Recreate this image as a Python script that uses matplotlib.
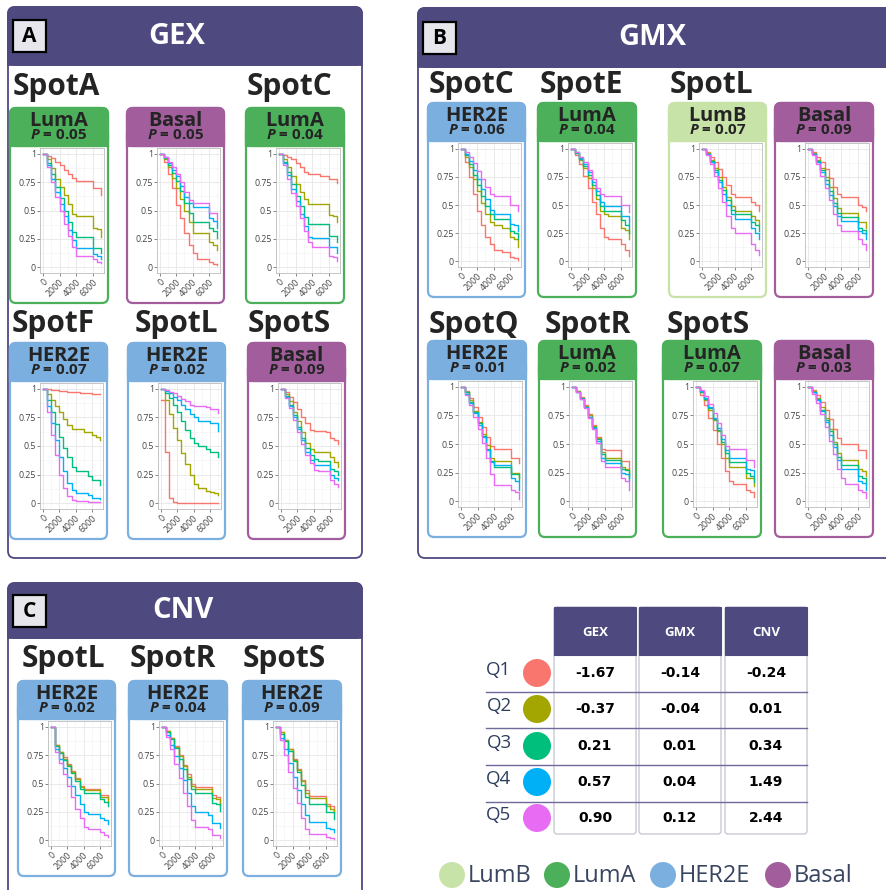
import matplotlib
matplotlib.use("Agg")
import matplotlib.pyplot as plt
from matplotlib.patches import FancyBboxPatch, Rectangle, Circle

plt.rcParams['font.family'] = ['Open Sans', 'DejaVu Sans']
plt.rcParams['mathtext.fontset'] = 'custom'
plt.rcParams['mathtext.bfit'] = 'Open Sans:italic:bold'
plt.rcParams['mathtext.bf'] = 'Open Sans:bold'

W, H = 886, 890

# survival time grid (days) and the five quintile colours
times = [0, 500, 1000, 1500, 2000, 2500, 3000, 3500, 4000, 4500, 5000, 5500, 6000, 6500, 7000]
quintiles = ['Q1', 'Q2', 'Q3', 'Q4', 'Q5']
q_colors = ['#F8766D', '#A3A500', '#00BF7D', '#00B0F6', '#E76BF3']

subtype_colors = {'LumB': '#C8E3A8', 'LumA': '#4CAF5A', 'HER2E': '#7BAFDF', 'Basal': '#A25E9C'}

# ---- GEX survival curves (Q1..Q5) ----
gex_spotA_lumA = [
    [1, 0.98, 0.96, 0.93, 0.90, 0.86, 0.82, 0.79, 0.76, 0.76, 0.76, 0.76, 0.70, 0.70, 0.64],
    [1, 0.95, 0.87, 0.78, 0.71, 0.64, 0.56, 0.47, 0.45, 0.45, 0.45, 0.45, 0.35, 0.34, 0.27],
    [1, 0.92, 0.82, 0.71, 0.61, 0.50, 0.40, 0.31, 0.27, 0.27, 0.27, 0.27, 0.17, 0.17, 0.13],
    [1, 0.90, 0.78, 0.66, 0.56, 0.45, 0.33, 0.24, 0.17, 0.17, 0.17, 0.17, 0.12, 0.10, 0.07],
    [1, 0.88, 0.75, 0.62, 0.50, 0.38, 0.28, 0.18, 0.10, 0.10, 0.10, 0.10, 0.07, 0.05, 0.04]]
gex_spotA_basal = [
    [1, 0.93, 0.82, 0.70, 0.55, 0.43, 0.30, 0.20, 0.13, 0.07, 0.07, 0.07, 0.05, 0.03, 0.02],
    [1, 0.95, 0.88, 0.79, 0.70, 0.60, 0.50, 0.40, 0.30, 0.30, 0.30, 0.30, 0.22, 0.20, 0.15],
    [1, 0.96, 0.90, 0.83, 0.76, 0.67, 0.57, 0.48, 0.40, 0.40, 0.40, 0.40, 0.35, 0.32, 0.26],
    [1, 0.97, 0.92, 0.86, 0.80, 0.72, 0.62, 0.57, 0.53, 0.53, 0.53, 0.53, 0.43, 0.41, 0.35],
    [1, 0.97, 0.93, 0.88, 0.82, 0.75, 0.66, 0.59, 0.57, 0.57, 0.57, 0.57, 0.48, 0.48, 0.42]]
gex_spotC_lumA = [
    [1, 0.99, 0.97, 0.95, 0.92, 0.88, 0.84, 0.82, 0.82, 0.82, 0.80, 0.80, 0.78, 0.78, 0.74],
    [1, 0.95, 0.88, 0.80, 0.73, 0.66, 0.60, 0.56, 0.56, 0.56, 0.56, 0.56, 0.46, 0.45, 0.40],
    [1, 0.93, 0.84, 0.73, 0.63, 0.54, 0.44, 0.38, 0.38, 0.38, 0.38, 0.38, 0.28, 0.28, 0.22],
    [1, 0.92, 0.81, 0.69, 0.58, 0.47, 0.36, 0.27, 0.26, 0.26, 0.26, 0.26, 0.18, 0.18, 0.13],
    [1, 0.90, 0.78, 0.65, 0.54, 0.43, 0.32, 0.22, 0.18, 0.18, 0.18, 0.18, 0.10, 0.09, 0.06]]
gex_spotF_her2e = [
    [1, 1.00, 0.99, 0.99, 0.98, 0.98, 0.97, 0.97, 0.97, 0.96, 0.96, 0.96, 0.95, 0.95, 0.95],
    [1, 0.95, 0.90, 0.85, 0.80, 0.74, 0.68, 0.65, 0.65, 0.65, 0.62, 0.62, 0.60, 0.58, 0.55],
    [1, 0.90, 0.80, 0.69, 0.58, 0.48, 0.40, 0.32, 0.28, 0.28, 0.28, 0.24, 0.20, 0.20, 0.16],
    [1, 0.85, 0.70, 0.55, 0.40, 0.28, 0.18, 0.12, 0.09, 0.09, 0.09, 0.07, 0.05, 0.05, 0.04],
    [1, 0.80, 0.60, 0.42, 0.25, 0.13, 0.06, 0.03, 0.02, 0.02, 0.02, 0.01, 0.01, 0.01, 0.01]]
gex_spotL_her2e = [
    [0.9, 0.45, 0.05, 0.01, 0.00, 0.00, 0.00, 0.00, 0.00, 0.00, 0.00, 0.00, 0.00, 0.00, 0.00],
    [1, 0.90, 0.78, 0.66, 0.55, 0.44, 0.34, 0.25, 0.17, 0.13, 0.13, 0.11, 0.10, 0.09, 0.07],
    [1, 0.96, 0.92, 0.86, 0.80, 0.72, 0.64, 0.57, 0.53, 0.50, 0.50, 0.47, 0.45, 0.45, 0.40],
    [1, 0.98, 0.96, 0.93, 0.90, 0.86, 0.82, 0.78, 0.75, 0.72, 0.72, 0.72, 0.70, 0.70, 0.63],
    [1, 0.99, 0.97, 0.96, 0.94, 0.91, 0.89, 0.86, 0.85, 0.85, 0.85, 0.84, 0.82, 0.82, 0.79]]
gex_spotS_basal = [
    [1, 0.97, 0.93, 0.88, 0.82, 0.75, 0.70, 0.64, 0.63, 0.63, 0.63, 0.62, 0.57, 0.55, 0.52],
    [1, 0.95, 0.89, 0.80, 0.72, 0.62, 0.53, 0.47, 0.45, 0.45, 0.45, 0.45, 0.40, 0.36, 0.32],
    [1, 0.94, 0.86, 0.77, 0.67, 0.57, 0.48, 0.42, 0.39, 0.37, 0.37, 0.37, 0.30, 0.28, 0.25],
    [1, 0.93, 0.85, 0.75, 0.65, 0.55, 0.45, 0.38, 0.33, 0.33, 0.33, 0.33, 0.25, 0.22, 0.20],
    [1, 0.92, 0.83, 0.73, 0.62, 0.52, 0.42, 0.35, 0.29, 0.28, 0.28, 0.28, 0.20, 0.17, 0.14]]

# ---- GMX survival curves ----
gmx_spotC_her2e = [
    [1, 0.88, 0.75, 0.60, 0.45, 0.32, 0.22, 0.15, 0.10, 0.10, 0.08, 0.08, 0.04, 0.03, 0.01],
    [1, 0.93, 0.84, 0.73, 0.62, 0.52, 0.42, 0.35, 0.32, 0.32, 0.30, 0.30, 0.22, 0.20, 0.13],
    [1, 0.94, 0.86, 0.77, 0.68, 0.58, 0.49, 0.42, 0.38, 0.38, 0.38, 0.38, 0.27, 0.25, 0.20],
    [1, 0.95, 0.89, 0.81, 0.73, 0.64, 0.55, 0.46, 0.42, 0.42, 0.42, 0.42, 0.33, 0.32, 0.27],
    [1, 0.97, 0.93, 0.87, 0.80, 0.73, 0.66, 0.60, 0.58, 0.58, 0.58, 0.58, 0.50, 0.50, 0.45]]
gmx_spotE_lumA = [
    [1, 0.94, 0.86, 0.76, 0.65, 0.53, 0.42, 0.30, 0.22, 0.20, 0.20, 0.20, 0.15, 0.10, 0.05],
    [1, 0.96, 0.90, 0.83, 0.74, 0.65, 0.55, 0.45, 0.42, 0.40, 0.40, 0.40, 0.30, 0.28, 0.20],
    [1, 0.96, 0.91, 0.85, 0.77, 0.68, 0.59, 0.49, 0.45, 0.45, 0.45, 0.45, 0.37, 0.32, 0.25],
    [1, 0.97, 0.92, 0.86, 0.79, 0.70, 0.62, 0.53, 0.49, 0.49, 0.49, 0.49, 0.40, 0.40, 0.32],
    [1, 0.97, 0.93, 0.88, 0.81, 0.73, 0.65, 0.60, 0.58, 0.58, 0.58, 0.58, 0.50, 0.50, 0.44]]
gmx_spotL_lumB = [
    [1, 0.97, 0.93, 0.88, 0.82, 0.75, 0.68, 0.60, 0.57, 0.57, 0.57, 0.57, 0.53, 0.50, 0.45],
    [1, 0.96, 0.90, 0.83, 0.75, 0.66, 0.57, 0.49, 0.45, 0.45, 0.45, 0.45, 0.40, 0.37, 0.33],
    [1, 0.95, 0.89, 0.81, 0.72, 0.63, 0.54, 0.46, 0.42, 0.42, 0.42, 0.42, 0.35, 0.32, 0.27],
    [1, 0.95, 0.88, 0.79, 0.70, 0.60, 0.50, 0.42, 0.38, 0.38, 0.38, 0.38, 0.30, 0.25, 0.20],
    [1, 0.94, 0.86, 0.76, 0.65, 0.53, 0.40, 0.30, 0.25, 0.25, 0.25, 0.25, 0.15, 0.10, 0.06]]
gmx_spotL_basal = [
    [1, 0.97, 0.93, 0.88, 0.82, 0.74, 0.66, 0.60, 0.57, 0.57, 0.57, 0.57, 0.50, 0.48, 0.45],
    [1, 0.96, 0.90, 0.83, 0.75, 0.66, 0.56, 0.47, 0.43, 0.43, 0.43, 0.43, 0.35, 0.35, 0.30],
    [1, 0.95, 0.89, 0.81, 0.72, 0.62, 0.52, 0.43, 0.39, 0.39, 0.39, 0.39, 0.30, 0.28, 0.24],
    [1, 0.95, 0.88, 0.79, 0.69, 0.59, 0.49, 0.40, 0.36, 0.36, 0.36, 0.36, 0.27, 0.25, 0.20],
    [1, 0.94, 0.86, 0.76, 0.65, 0.54, 0.42, 0.32, 0.27, 0.27, 0.27, 0.27, 0.20, 0.15, 0.10]]
gmx_spotQ_her2e = [
    [1, 0.96, 0.90, 0.82, 0.74, 0.65, 0.56, 0.48, 0.46, 0.46, 0.46, 0.46, 0.38, 0.38, 0.33],
    [1, 0.95, 0.88, 0.79, 0.69, 0.59, 0.49, 0.38, 0.35, 0.35, 0.35, 0.35, 0.25, 0.25, 0.20],
    [1, 0.95, 0.87, 0.78, 0.68, 0.57, 0.46, 0.35, 0.30, 0.30, 0.30, 0.30, 0.24, 0.24, 0.19],
    [1, 0.94, 0.86, 0.77, 0.67, 0.56, 0.45, 0.34, 0.32, 0.32, 0.32, 0.32, 0.20, 0.18, 0.10],
    [1, 0.93, 0.84, 0.74, 0.63, 0.51, 0.38, 0.24, 0.14, 0.14, 0.14, 0.14, 0.10, 0.08, 0.02]]
gmx_spotR_lumA = [
    [1, 0.96, 0.91, 0.84, 0.76, 0.67, 0.56, 0.46, 0.45, 0.45, 0.45, 0.45, 0.35, 0.35, 0.28],
    [1, 0.96, 0.90, 0.83, 0.75, 0.66, 0.55, 0.43, 0.38, 0.38, 0.38, 0.38, 0.30, 0.28, 0.22],
    [1, 0.95, 0.90, 0.82, 0.74, 0.65, 0.54, 0.41, 0.36, 0.36, 0.36, 0.36, 0.28, 0.27, 0.20],
    [1, 0.95, 0.89, 0.82, 0.74, 0.64, 0.53, 0.38, 0.33, 0.33, 0.33, 0.33, 0.25, 0.24, 0.18],
    [1, 0.95, 0.89, 0.81, 0.73, 0.63, 0.51, 0.35, 0.30, 0.30, 0.30, 0.30, 0.20, 0.18, 0.10]]
gmx_spotS_lumA = [
    [1, 0.93, 0.84, 0.73, 0.62, 0.50, 0.38, 0.26, 0.18, 0.15, 0.15, 0.15, 0.10, 0.08, 0.04],
    [1, 0.95, 0.88, 0.80, 0.71, 0.61, 0.50, 0.38, 0.30, 0.30, 0.30, 0.30, 0.20, 0.20, 0.13],
    [1, 0.95, 0.89, 0.81, 0.72, 0.62, 0.52, 0.42, 0.34, 0.34, 0.34, 0.34, 0.25, 0.22, 0.17],
    [1, 0.96, 0.90, 0.82, 0.73, 0.64, 0.54, 0.45, 0.38, 0.38, 0.38, 0.38, 0.28, 0.27, 0.22],
    [1, 0.97, 0.92, 0.85, 0.77, 0.68, 0.58, 0.48, 0.46, 0.46, 0.46, 0.46, 0.36, 0.36, 0.30]]
gmx_spotS_basal = [
    [1, 0.97, 0.93, 0.87, 0.80, 0.72, 0.63, 0.55, 0.50, 0.50, 0.50, 0.50, 0.45, 0.45, 0.38],
    [1, 0.96, 0.90, 0.82, 0.73, 0.63, 0.52, 0.42, 0.36, 0.36, 0.36, 0.36, 0.28, 0.26, 0.22],
    [1, 0.95, 0.89, 0.80, 0.71, 0.61, 0.50, 0.39, 0.32, 0.32, 0.32, 0.32, 0.22, 0.20, 0.15],
    [1, 0.95, 0.88, 0.79, 0.69, 0.58, 0.47, 0.36, 0.28, 0.28, 0.28, 0.28, 0.18, 0.16, 0.10],
    [1, 0.94, 0.86, 0.76, 0.65, 0.53, 0.41, 0.28, 0.20, 0.15, 0.15, 0.15, 0.10, 0.08, 0.03]]

# ---- CNV survival curves ----
cnv_spotL_her2e = [
    [1, 0.84, 0.78, 0.73, 0.67, 0.61, 0.55, 0.48, 0.45, 0.45, 0.45, 0.45, 0.40, 0.40, 0.36],
    [1, 0.84, 0.78, 0.72, 0.66, 0.60, 0.54, 0.47, 0.44, 0.44, 0.44, 0.44, 0.38, 0.38, 0.34],
    [1, 0.83, 0.77, 0.71, 0.65, 0.59, 0.52, 0.45, 0.42, 0.42, 0.42, 0.42, 0.36, 0.34, 0.30],
    [1, 0.80, 0.72, 0.64, 0.56, 0.48, 0.40, 0.32, 0.25, 0.23, 0.23, 0.23, 0.20, 0.18, 0.14],
    [1, 0.78, 0.68, 0.58, 0.48, 0.38, 0.28, 0.20, 0.12, 0.10, 0.10, 0.10, 0.07, 0.05, 0.03]]
cnv_spotR_her2e = [
    [1, 0.96, 0.90, 0.83, 0.75, 0.66, 0.58, 0.50, 0.47, 0.47, 0.47, 0.47, 0.40, 0.38, 0.32],
    [1, 0.96, 0.90, 0.82, 0.74, 0.65, 0.56, 0.48, 0.45, 0.45, 0.45, 0.45, 0.37, 0.36, 0.30],
    [1, 0.95, 0.89, 0.81, 0.72, 0.63, 0.54, 0.45, 0.42, 0.42, 0.42, 0.42, 0.33, 0.32, 0.26],
    [1, 0.93, 0.84, 0.74, 0.64, 0.53, 0.42, 0.30, 0.25, 0.25, 0.25, 0.22, 0.15, 0.15, 0.11],
    [1, 0.91, 0.80, 0.67, 0.55, 0.42, 0.30, 0.18, 0.12, 0.12, 0.12, 0.10, 0.05, 0.05, 0.02]]
cnv_spotS_her2e = [
    [1, 0.95, 0.88, 0.80, 0.72, 0.63, 0.53, 0.44, 0.39, 0.39, 0.39, 0.39, 0.32, 0.30, 0.26],
    [1, 0.95, 0.88, 0.80, 0.71, 0.62, 0.52, 0.42, 0.37, 0.37, 0.37, 0.37, 0.30, 0.28, 0.24],
    [1, 0.94, 0.87, 0.79, 0.70, 0.60, 0.49, 0.38, 0.32, 0.32, 0.32, 0.32, 0.25, 0.25, 0.19],
    [1, 0.90, 0.80, 0.68, 0.56, 0.44, 0.32, 0.22, 0.16, 0.16, 0.16, 0.16, 0.11, 0.10, 0.07],
    [1, 0.88, 0.75, 0.60, 0.46, 0.33, 0.20, 0.10, 0.06, 0.06, 0.06, 0.06, 0.03, 0.02, 0.01]]

# mean values table
table_cols = ['GEX', 'GMX', 'CNV']
gex_means = ['-1.67', '-0.37', '0.21', '0.57', '0.90']
gmx_means = ['-0.14', '-0.04', '0.01', '0.04', '0.12']
cnv_means = ['-0.24', '0.01', '0.34', '1.49', '2.44']

legend_labels = ['LumB', 'LumA', 'HER2E', 'Basal']

# cards: (subtype, p value, curves, box in pixels)
cards = [
    ('LumA', '0.05', gex_spotA_lumA, (10, 108, 108, 303)),
    ('Basal', '0.05', gex_spotA_basal, (127, 108, 224, 303)),
    ('LumA', '0.04', gex_spotC_lumA, (246, 108, 344, 303)),
    ('HER2E', '0.07', gex_spotF_her2e, (10, 343, 107, 539)),
    ('HER2E', '0.02', gex_spotL_her2e, (128, 343, 225, 539)),
    ('Basal', '0.09', gex_spotS_basal, (248, 343, 345, 539)),
    ('HER2E', '0.06', gmx_spotC_her2e, (428, 103, 525, 297)),
    ('LumA', '0.04', gmx_spotE_lumA, (538, 103, 636, 297)),
    ('LumB', '0.07', gmx_spotL_lumB, (669, 103, 766, 297)),
    ('Basal', '0.09', gmx_spotL_basal, (775, 103, 873, 297)),
    ('HER2E', '0.01', gmx_spotQ_her2e, (428, 341, 526, 537)),
    ('LumA', '0.02', gmx_spotR_lumA, (539, 341, 636, 537)),
    ('LumA', '0.07', gmx_spotS_lumA, (663, 341, 761, 537)),
    ('Basal', '0.03', gmx_spotS_basal, (775, 341, 873, 537)),
    ('HER2E', '0.02', cnv_spotL_her2e, (18, 681, 115, 876)),
    ('HER2E', '0.04', cnv_spotR_her2e, (129, 681, 227, 876)),
    ('HER2E', '0.09', cnv_spotS_her2e, (243, 681, 341, 876)),
]

spot_labels = [
    ('SpotA', 13, 95), ('SpotC', 247, 95),
    ('SpotF', 12, 332), ('SpotL', 135, 332), ('SpotS', 248, 332),
    ('SpotC', 429, 93), ('SpotE', 540, 93), ('SpotL', 670, 93),
    ('SpotQ', 429, 333), ('SpotR', 545, 333), ('SpotS', 667, 333),
    ('SpotL', 22, 667), ('SpotR', 130, 667), ('SpotS', 243, 667),
]

PURPLE = '#4E4A80'
DARK = '#242424'

fig = plt.figure(figsize=(W / 100, H / 100), dpi=100)
bg = fig.add_axes([0, 0, 1, 1])
bg.set_xlim(0, W)
bg.set_ylim(H, 0)
bg.axis('off')


def rbox(x0, y0, x1, y1, fc, ec, lw, r, z=1):
    p = FancyBboxPatch((x0, y0), x1 - x0, y1 - y0,
                       boxstyle=f'round,pad=0,rounding_size={r}',
                       fc=fc, ec=ec, lw=lw, zorder=z)
    bg.add_patch(p)


def panel(x0, y0, x1, y1, hdr, letter, title, tx):
    rbox(x0, y0, x1, y1, 'white', PURPLE, 1.3, 7, z=1)
    rbox(x0, y0, x1, hdr, PURPLE, PURPLE, 1.3, 7, z=2)
    bg.add_patch(Rectangle((x0, hdr - 10), x1 - x0, 10, fc=PURPLE, ec=PURPLE, lw=1.3, zorder=2))
    ly = (y0 + hdr) / 2
    bg.add_patch(Rectangle((x0 + 5, ly - 16), 33, 32, fc='#E6E6EC', ec='black', lw=1.6, zorder=3))
    bg.text(x0 + 21.5, ly + 1, letter, fontsize=15, fontweight='bold', color='black',
            ha='center', va='center', zorder=4)
    bg.text(tx, ly, title, fontsize=21, fontweight='bold', color='white',
            ha='center', va='center', zorder=4)


panel(8, 7, 362, 558, 65, 'A', 'GEX', 177)
panel(418, 8, 900, 558, 67, 'B', 'GMX', 652)
panel(8, 583, 362, 910, 638, 'C', 'CNV', 183)

for name, x, y in spot_labels:
    bg.text(x, y, name, fontsize=21.5, fontweight='bold', color=DARK, ha='left', va='baseline', zorder=5)

for subtype, pval, curves, (x0, y0, x1, y1) in cards:
    col = subtype_colors[subtype]
    rbox(x0, y0, x1, y1, 'white', col, 1.6, 6, z=3)
    rbox(x0, y0, x1, y0 + 38, col, col, 1.6, 6, z=3)
    bg.add_patch(Rectangle((x0, y0 + 26), x1 - x0, 12, fc=col, ec=col, lw=1.6, zorder=3))
    cx = (x0 + x1) / 2
    bg.text(cx, y0 + 18, r'$\mathbf{' + subtype + '}$', fontsize=14.5, color=DARK,
            ha='center', va='baseline', zorder=5)
    bg.text(cx, y0 + 31, r'$\mathbfit{P}$ = ' + pval, fontsize=11, fontweight='bold',
            color=DARK, ha='center', va='baseline', zorder=5)

    left, right, top, bottom = x0 + 30, x1 - 4, y0 + 40, y1 - 30
    ax = fig.add_axes([left / W, 1 - bottom / H, (right - left) / W, (bottom - top) / H])
    for surv, c in zip(curves, q_colors):
        ax.step(times, surv, where='post', color=c, lw=1.0)
    ax.set_xlim(-350, 7350)
    ax.set_ylim(-0.05, 1.05)
    ax.set_xticks([0, 2000, 4000, 6000])
    ax.set_xticks([1000, 3000, 5000, 7000], minor=True)
    ax.set_yticks([0, 0.25, 0.5, 0.75, 1])
    ax.set_yticks([0.125, 0.375, 0.625, 0.875], minor=True)
    ax.set_yticklabels(['0', '0.25', '0.5', '0.75', '1'])
    ax.set_xticklabels(['0', '2000', '4000', '6000'], rotation=45, ha='right',
                       va='top', rotation_mode='anchor')
    ax.grid(which='major', color='#E6E6E6', lw=0.6)
    ax.grid(which='minor', color='#F2F2F2', lw=0.4)
    ax.set_axisbelow(True)
    ax.tick_params(which='major', labelsize=6.3, length=2, width=0.5, color='#555555',
                   labelcolor='#444444', pad=1)
    ax.tick_params(which='minor', length=0)
    for s in ax.spines.values():
        s.set_color('#BBBBBB')
        s.set_linewidth(0.6)

# table of quintile means
col_x = [(554, 636), (639, 721), (725, 807)]
row_y = [673, 709, 746, 782, 818]
values = [gex_means, gmx_means, cnv_means]
for (cx0, cx1), head, vals in zip(col_x, table_cols, values):
    rbox(cx0, 607, cx1, 834, 'white', '#C9C9D6', 1.0, 3, z=2)
    bg.add_patch(Rectangle((cx0, 607), cx1 - cx0, 48, fc=PURPLE, ec=PURPLE, lw=0.8, zorder=3))
    bg.text((cx0 + cx1) / 2, 633, head, fontsize=9.5, fontweight='bold', color='white',
            ha='center', va='center', zorder=4)
    for v, y in zip(vals, row_y):
        bg.text((cx0 + cx1) / 2, y, v, fontsize=10, fontweight='bold', color='black',
                family='DejaVu Sans', ha='center', va='center', zorder=4)

for y in [692, 728, 765, 802]:
    bg.plot([486, 807], [y, y], color='#6E6A9A', lw=1.0, zorder=4)

for q, c, y in zip(quintiles, q_colors, row_y):
    bg.text(499, y - 3, q, fontsize=13.5, color='#2C3E60', ha='center', va='center', zorder=4)
    bg.add_patch(Circle((537, y), 14, fc=c, ec='none', zorder=4))

# subtype legend
leg_circle_x = [452, 557, 663, 778]
for lab, cxl in zip(legend_labels, leg_circle_x):
    bg.add_patch(Circle((cxl, 875), 13, fc=subtype_colors[lab], ec='none', zorder=4))
    bg.text(cxl + 16, 876, lab, fontsize=17, color='#3A4660', ha='left', va='center', zorder=4)

fig.savefig('out.png', dpi=100)
